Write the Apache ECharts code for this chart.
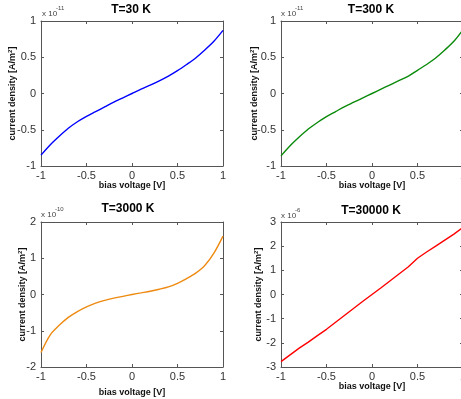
<!DOCTYPE html>
<html>
<head>
<meta charset="utf-8">
<script src="https://cdn.jsdelivr.net/npm/echarts@6/dist/echarts.min.js"></script>
<style>html,body{margin:0;padding:0;background:#fff}#c{width:461px;height:399px}</style>
</head>
<body>
<div id="c"></div>
<script>
// bias voltage [V]
const voltage = [-1,-0.9,-0.8,-0.7,-0.6,-0.5,-0.4,-0.3,-0.2,-0.1,0,0.1,0.2,0.3,0.4,0.5,0.6,0.7,0.8,0.9,1];
// current density mantissas (x 10^exp A/m^2)
const j30    = [-0.85,-0.71,-0.59,-0.48,-0.39,-0.315,-0.25,-0.185,-0.12,-0.06,0,0.06,0.115,0.175,0.24,0.315,0.40,0.49,0.60,0.72,0.87];
const j300   = [-0.86,-0.72,-0.60,-0.49,-0.40,-0.32,-0.25,-0.18,-0.12,-0.06,0,0.06,0.12,0.18,0.24,0.32,0.40,0.49,0.60,0.72,0.88];
const j3000  = [-1.60,-1.12,-0.85,-0.63,-0.47,-0.34,-0.24,-0.16,-0.10,-0.05,0,0.045,0.09,0.145,0.21,0.31,0.44,0.59,0.80,1.14,1.61];
const j30000 = [-2.78,-2.50,-2.22,-1.97,-1.70,-1.44,-1.15,-0.86,-0.57,-0.28,0,0.28,0.57,0.86,1.15,1.50,1.76,2.00,2.25,2.50,2.78];
const titles = ['T=30 K','T=300 K','T=3000 K','T=30000 K'];
const exponents = ['-11','-11','-10','-6'];
const yRanges = [[-1,1,0.5],[-1,1,0.5],[-2,2,1],[-3,3,1]];
const colors = ['#0000ff','#0a8a0a','#ee8a10','#ff0000'];
const xTicks = [-1,-0.5,0,0.5,1];

const series = [j30, j300, j3000, j30000];
const smoothing = [0.3, 0.3, 0.3, 0];
const grids = [
  {left:41, top:21, width:182, height:145, outerBoundsMode:'none'},
  {left:281, top:21, width:182, height:145, outerBoundsMode:'none'},
  {left:41, top:222, width:182, height:145, outerBoundsMode:'none'},
  {left:281, top:222, width:182, height:145, outerBoundsMode:'none'}
];
const xNameGap = [15, 15, 21, 15];
const yNameGap = [23, 21, 13, 17];
const titlePos = [[131,10],[371,10],[128,209],[371,211]];
const expPos = [[42,14],[281,14],[41,215],[281,216]];

const axisColor = '#555';
const xAxis = [], yAxis = [], ser = [], graphic = [];
grids.forEach((g, i) => {
  const base = {
    gridIndex: i, type: 'value', min: xTicks[0], max: xTicks[xTicks.length-1], interval: 0.5,
    axisLine: {onZero:false, lineStyle:{color:axisColor, width:1}},
    axisTick: {inside:true, length:3, lineStyle:{color:axisColor}},
    splitLine: {show:false}
  };
  xAxis.push(Object.assign({}, base, {
    position:'bottom',
    axisLabel: {color:'#333', fontSize:11, fontFamily:'Liberation Sans, Arial', margin:4},
    name: 'bias voltage [V]', nameLocation:'middle', nameGap: xNameGap[i], nameMoveOverlap:false,
    nameTextStyle: {fontWeight:'bold', fontSize:9, color:'#111', fontFamily:'Liberation Sans, Arial', verticalAlign:'top'}
  }));
  xAxis.push(Object.assign({}, base, {position:'top', axisLabel:{show:false}}));
  const yr = yRanges[i];
  const ybase = {
    gridIndex: i, type:'value', min: yr[0], max: yr[1], interval: yr[2],
    axisLine: {onZero:false, show:true, lineStyle:{color:axisColor, width:1}},
    axisTick: {show:true, inside:true, length:3, lineStyle:{color:axisColor}},
    splitLine: {show:false}
  };
  yAxis.push(Object.assign({}, ybase, {
    position:'left',
    axisLabel: {color:'#333', fontSize:11, fontFamily:'Liberation Sans, Arial', margin:5},
    name: 'current density [A/m{sup|2}]', nameLocation:'middle', nameGap: yNameGap[i], nameRotate: 90,
    nameMoveOverlap:false,
    nameTextStyle: {fontWeight:'bold', fontSize:9, color:'#111', fontFamily:'Liberation Sans, Arial',
      rich: {sup: {fontSize:6, fontWeight:'bold', color:'#111', verticalAlign:'top', padding:[0,0,5,0]}}}
  }));
  yAxis.push(Object.assign({}, ybase, {position:'right', axisLabel:{show:false}}));
  ser.push({
    type:'line', xAxisIndex: 2*i, yAxisIndex: 2*i, showSymbol:false, symbol:'none', smooth: smoothing[i],
    lineStyle:{color:colors[i], width:1.4}, itemStyle:{color:colors[i]},
    data: voltage.map((v,k)=>[v, series[i][k]]), animation:false
  });
  graphic.push({type:'text', x: titlePos[i][0], y: titlePos[i][1],
    style:{text: titles[i], fill:'#000', font:'bold 12px "Liberation Sans", Arial', textAlign:'center', textVerticalAlign:'middle'}});
  graphic.push({type:'text', x: expPos[i][0], y: expPos[i][1],
    style:{text: 'x 10', fill:'#444', font:'8px "Liberation Sans", Arial', textAlign:'left', textVerticalAlign:'middle'}});
  graphic.push({type:'text', x: expPos[i][0]+14, y: expPos[i][1]-6,
    style:{text: exponents[i], fill:'#444', font:'6px "Liberation Sans", Arial', textAlign:'left', textVerticalAlign:'middle'}});
});

const chart = echarts.init(document.getElementById('c'), null, {renderer:'canvas'});
chart.setOption({
  animation:false,
  backgroundColor:'#fff',
  grid: grids,
  xAxis, yAxis, series: ser, graphic
});
</script>
</body>
</html>
